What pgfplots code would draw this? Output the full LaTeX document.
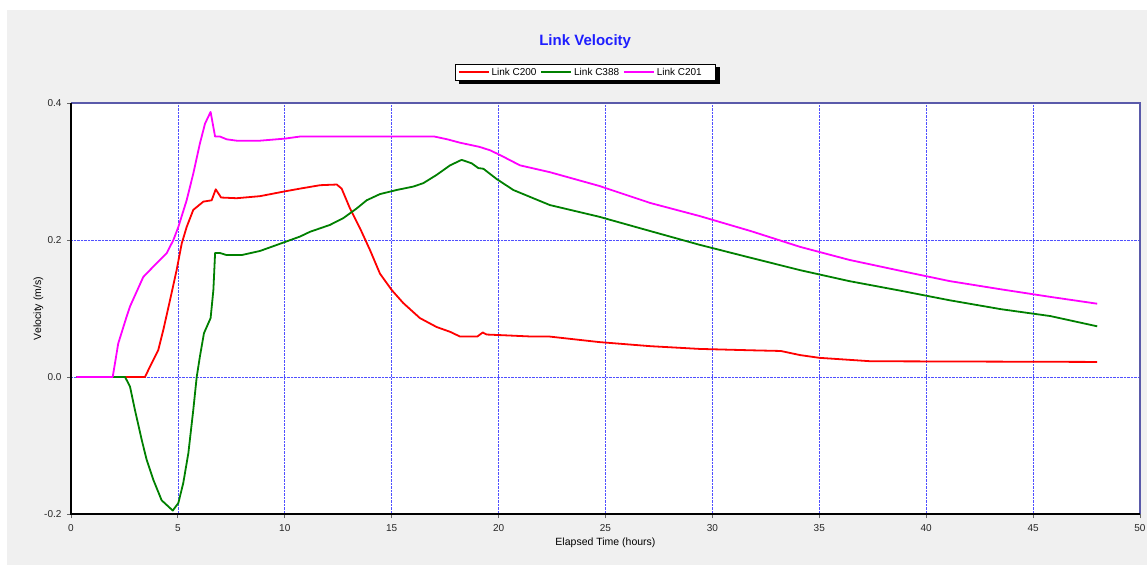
\documentclass[border=0pt]{standalone}
\usepackage{fontspec}
\setmainfont{Liberation Sans}
\usepackage{pgfplots}
\pgfplotsset{compat=1.18}
\usetikzlibrary{calc}
\pgfdeclarelayer{bgzero}
\pgfdeclarelayer{bgshadow}
\pgfsetlayers{bgzero,bgshadow,main}
\definecolor{bgray}{RGB}{240,240,240}
\definecolor{cred}{RGB}{255,0,0}
\definecolor{cgreen}{RGB}{0,128,0}
\definecolor{cmag}{RGB}{255,0,255}
\definecolor{slateb}{RGB}{90,90,170}
\definecolor{gridb}{RGB}{80,80,255}
\definecolor{titleb}{RGB}{30,30,255}
\begin{document}
\begin{tikzpicture}
\useasboundingbox (0pt,0pt) rectangle (1147pt,566pt);
\begin{pgfonlayer}{bgzero}
\fill[white] (0pt,0pt) rectangle (1147pt,566pt);
\fill[bgray] (7pt,1pt) rectangle (1147pt,556pt);
\end{pgfonlayer}
\begin{axis}[
  at={(71pt,52pt)}, anchor=south west,
  scale only axis, width=1069pt, height=411pt,
  xmin=0, xmax=50, ymin=-0.2, ymax=0.4,
  xtick={0,5,...,50}, ytick={-0.2,0,0.2,0.4},
  xtick pos=bottom, ytick pos=left,
  tick align=outside, major tick length=4pt,
  every tick/.style={black!60, line width=0.8pt},
  /pgf/number format/assume math mode=true,
  yticklabel style={/pgf/number format/fixed, /pgf/number format/fixed zerofill, /pgf/number format/precision=1, xshift=-2pt},
  ticklabel style={font=\fontsize{10}{12}\selectfont, text=black!85},
  xticklabel style={yshift=-3pt},
  axis background/.style={fill=white},
  axis line style={draw=none},
  grid=major,
  major grid style={gridb, densely dotted, line width=0.75pt},
  xlabel={Elapsed Time (hours)},
  ylabel={Velocity (m/s)},
  label style={font=\fontsize{10.5}{12}\selectfont},
  xlabel style={yshift=1pt},
  ylabel style={yshift=-6pt},
  title={Link Velocity},
  title style={font=\fontsize{15}{18}\selectfont\bfseries, text=titleb, at={(0.481,1.134)}, anchor=center},
  legend columns=3,
  legend style={name=leg, at={(0.481,1.075)}, anchor=center, draw=black, line width=0.8pt, fill=white,
    font=\fontsize{10}{12}\selectfont, inner xsep=2.5pt, inner ysep=2pt,
    nodes={inner sep=1.8pt},
    /tikz/every even column/.append style={column sep=2pt}},
  legend image code/.code={\draw[#1, line width=2pt] (0pt,0pt) -- (30pt,0pt);},
  clip=false,
  every axis plot/.append style={line width=1.8pt, line join=round},
]
\addplot[cred] coordinates {
(0.25,0) (3.46,0) (3.77,0.020) (4.08,0.039) (4.32,0.069) (4.63,0.112) (4.94,0.156) (5.18,0.195) (5.41,0.219) (5.72,0.244) (6.19,0.256) (6.58,0.258) (6.77,0.274) (7.02,0.262) (7.75,0.261) (8.84,0.264) (10.0,0.271) (10.71,0.275) (11.65,0.280) (12.43,0.281) (12.66,0.275) (13.05,0.246) (13.52,0.217) (13.99,0.185) (14.45,0.151) (15.0,0.127) (15.54,0.108) (16.32,0.086) (17.1,0.073) (17.73,0.066) (18.2,0.059) (19.0,0.059) (19.26,0.065) (19.44,0.062) (20.2,0.061) (21.6,0.059) (22.4,0.059) (24.7,0.051) (27.1,0.045) (29.4,0.041) (31.8,0.039) (33.2,0.038) (34.1,0.032) (35.0,0.028) (37.4,0.023) (48,0.022)
};
\addlegendentry{Link C200}
\addplot[cgreen] coordinates {
(0.25,0) (2.53,0) (2.76,-0.014) (2.99,-0.048) (3.31,-0.092) (3.54,-0.121) (3.85,-0.150) (4.24,-0.180) (4.76,-0.195) (5.02,-0.184) (5.25,-0.155) (5.49,-0.111) (5.72,-0.048) (5.88,0.0) (6.03,0.030) (6.22,0.064) (6.53,0.086) (6.66,0.127) (6.74,0.181) (6.97,0.181) (7.28,0.178) (7.98,0.178) (8.84,0.184) (10.0,0.197) (10.71,0.205) (11.18,0.212) (12.11,0.222) (12.74,0.232) (13.36,0.246) (13.83,0.258) (14.45,0.267) (15.23,0.273) (16.01,0.278) (16.48,0.283) (17.1,0.295) (17.73,0.309) (18.27,0.317) (18.74,0.312) (19.05,0.305) (19.29,0.304) (19.91,0.289) (20.69,0.273) (21.62,0.261) (22.4,0.251) (24.7,0.234) (27.1,0.213) (29.4,0.193) (31.8,0.174) (34.1,0.156) (36.4,0.14) (38.8,0.126) (41.1,0.112) (43.5,0.099) (45.8,0.089) (48,0.074)
};
\addlegendentry{Link C388}
\addplot[cmag] coordinates {
(0.25,0) (1.95,0) (2.21,0.049) (2.6,0.088) (2.76,0.103) (3.38,0.146) (4.0,0.166) (4.48,0.181) (4.79,0.2) (5.02,0.219) (5.41,0.258) (5.72,0.297) (6.03,0.341) (6.27,0.370) (6.53,0.387) (6.74,0.351) (6.97,0.351) (7.28,0.347) (7.75,0.345) (8.84,0.345) (10.0,0.348) (10.7,0.351) (17.0,0.351) (17.6,0.347) (18.2,0.342) (19.1,0.336) (19.6,0.331) (20.07,0.324) (21.0,0.309) (22.4,0.299) (24.7,0.279) (27.1,0.254) (29.4,0.235) (31.8,0.213) (34.1,0.19) (36.4,0.171) (38.8,0.155) (41.1,0.14) (43.5,0.128) (45.8,0.117) (48,0.107)
};
\addlegendentry{Link C201\hspace*{9pt}}
\draw[slateb, line width=1.5pt] (rel axis cs:0,1) -- (rel axis cs:1,1) -- (rel axis cs:1,0);
\draw[black, line width=2pt] (rel axis cs:0,1) -- (rel axis cs:0,0) -- (rel axis cs:1,0);
\end{axis}
\begin{pgfonlayer}{bgshadow}
\fill[black] ($(leg.south west)+(4pt,-3pt)$) rectangle ($(leg.north east)+(4pt,-3pt)$);
\end{pgfonlayer}
\end{tikzpicture}
\end{document}
